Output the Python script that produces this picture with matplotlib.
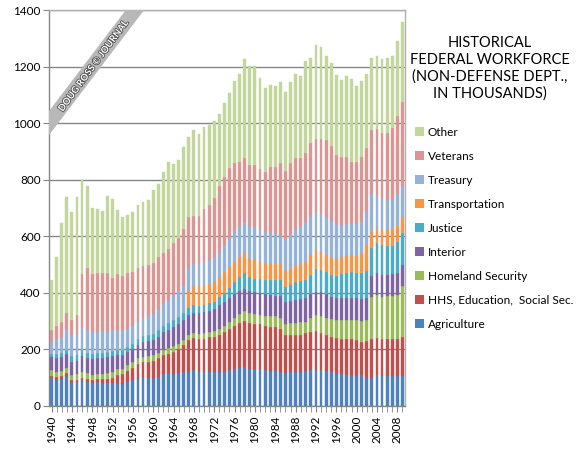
import numpy as np
import matplotlib
matplotlib.use('Agg')
import matplotlib.pyplot as plt
import matplotlib.patheffects as pe
from matplotlib.patches import Patch

plt.rcParams['font.family'] = ['Lato', 'DejaVu Sans']

# 数据：各部门文职人数（千人），1940-2009
years = list(range(1940, 2010))

agriculture = [98, 93, 95, 107, 80, 83, 90, 85, 82, 84,
               82, 82, 80, 79, 78, 86, 90, 95, 101, 100,
               100, 103, 111, 115, 113, 116, 119, 121, 125, 120,
               120, 121, 118, 119, 121, 128, 130, 134, 139, 132,
               131, 130, 125, 124, 124, 121, 116, 118, 120, 121,
               122, 127, 128, 126, 122, 118, 111, 111, 108, 108,
               104, 108, 98, 100, 109, 106, 104, 104, 104, 104]
hhs = [9, 10, 9, 10, 10, 10, 10, 11, 11, 11,
       12, 14, 18, 31, 34, 36, 45, 53, 53, 55,
       58, 65, 67, 70, 79, 84, 96, 111, 115, 117,
       118, 121, 127, 131, 139, 144, 153, 158, 161, 160,
       159, 158, 157, 156, 154, 149, 136, 132, 130, 131,
       134, 135, 136, 130, 130, 127, 128, 126, 127, 127,
       129, 119, 132, 136, 131, 130, 131, 131, 133, 139]
homeland = [18, 17, 18, 18, 20, 20, 20, 19, 17, 17,
            18, 19, 20, 20, 20, 21, 20, 20, 20, 20,
            20, 20, 19, 18, 18, 18, 18, 18, 17, 17,
            18, 18, 18, 20, 22, 24, 27, 33, 36, 36,
            35, 34, 36, 38, 40, 42, 38, 42, 44, 44,
            42, 48, 56, 60, 60, 61, 63, 65, 68, 70,
            69, 73, 72, 150, 152, 149, 153, 155, 155, 181]
interior = [47, 50, 50, 48, 45, 47, 55, 53, 55, 56,
            58, 57, 57, 48, 46, 46, 45, 47, 51, 53,
            54, 57, 63, 65, 68, 72, 72, 72, 73, 74,
            76, 77, 79, 85, 86, 86, 85, 80, 76, 77,
            77, 76, 76, 74, 72, 77, 79, 80, 82, 82,
            82, 85, 84, 86, 84, 80, 79, 79, 80, 78,
            78, 78, 80, 72, 79, 77, 74, 75, 78, 74]
justice = [12, 15, 16, 14, 20, 18, 21, 18, 18, 18,
           18, 20, 20, 20, 20, 18, 20, 22, 22, 22,
           23, 23, 24, 24, 24, 25, 25, 24, 25, 25,
           25, 25, 26, 30, 32, 36, 43, 50, 57, 50,
           48, 50, 50, 52, 55, 56, 51, 56, 61, 62,
           66, 68, 80, 78, 76, 77, 79, 85, 86, 89,
           91, 93, 96, 99, 104, 106, 104, 102, 110, 114]
transportation = [0] * 27 + [60, 70, 70,
                  70, 70, 70, 70, 72, 72, 72, 73, 71, 65,
                  65, 62, 61, 59, 57, 55, 56, 57, 59, 63,
                  64, 71, 67, 65, 63, 59, 58, 59, 61, 60,
                  59, 68, 92, 59, 55, 54, 56, 57, 56, 55]
treasury = [41, 52, 56, 75, 75, 77, 84, 82, 79, 76,
            75, 74, 73, 70, 67, 64, 62, 63, 65, 68,
            70, 74, 81, 83, 88, 90, 98, 85, 77, 77,
            80, 83, 87, 90, 98, 105, 107, 107, 110, 115,
            117, 115, 110, 109, 110, 100, 111, 120, 129, 132,
            140, 141, 134, 135, 133, 133, 125, 115, 113, 115,
            115, 112, 120, 133, 112, 108, 106, 104, 115, 111]
veterans = [44, 45, 53, 58, 55, 65, 185, 221, 205, 207,
            207, 204, 185, 199, 195, 198, 193, 189, 181, 179,
            179, 184, 177, 180, 185, 190, 197, 177, 170, 172,
            188, 197, 210, 233, 241, 247, 241, 226, 228, 217,
            220, 212, 213, 234, 234, 258, 244, 253, 251, 241,
            243, 254, 259, 264, 272, 265, 244, 241, 238, 215,
            216, 229, 223, 227, 238, 236, 238, 256, 275, 298]
other = [176, 245, 350, 409, 381, 418, 333, 290, 233, 226,
         219, 271, 279, 226, 207, 206, 211, 221, 228, 231,
         258, 260, 286, 309, 280, 273, 291, 284, 304, 289,
         291, 280, 274, 254, 261, 266, 291, 313, 348, 350,
         350, 324, 295, 288, 285, 287, 279, 287, 299, 289,
         326, 303, 332, 324, 297, 292, 283, 271, 284, 293,
         270, 269, 261, 256, 256, 261, 263, 252, 264, 283]

names = ['Agriculture', 'HHS, Education,  Social Sec.', 'Homeland Security',
         'Interior', 'Justice', 'Transportation', 'Treasury', 'Veterans', 'Other']
series = [agriculture, hhs, homeland, interior, justice,
          transportation, treasury, veterans, other]
colors = ['#4F81BD', '#C0504D', '#9BBB59', '#8064A2', '#4BACC6',
          '#F79646', '#95B3D7', '#D99694', '#C3D69B']

fig = plt.figure(figsize=(5.76, 4.57), dpi=100)
ax = fig.add_axes([0.085, 0.112, 0.618, 0.866])

x = np.arange(len(years))
bottom = np.zeros(len(years))
for vals, c in zip(series, colors):
    ax.bar(x, vals, bottom=bottom, width=0.56, color=c,
           edgecolor=c, linewidth=0.3, zorder=3)
    bottom += np.array(vals)

ax.set_xlim(-0.5, len(years) - 0.5)
ax.set_ylim(0, 1400)
ax.set_yticks(range(0, 1401, 200))
ax.yaxis.grid(True, color='#868686', linewidth=1, zorder=0)
ax.tick_params(axis='y', labelsize=8.5, length=4, color='#868686', pad=2)

ax.set_xticks(x, minor=True)
major = [i for i, y in enumerate(years) if (y - 1940) % 4 == 0]
ax.set_xticks(major)
ax.set_xticklabels([str(years[i]) for i in major], rotation=90, fontsize=8.5)
ax.tick_params(axis='x', which='both', length=4, color='#868686', pad=3)

for s in ['left', 'bottom']:
    ax.spines[s].set_color('#868686')
    ax.spines[s].set_linewidth(1)
for s in ['top', 'right']:
    ax.spines[s].set_color('#b0b0b0')
    ax.spines[s].set_linewidth(1)

# 水印（左上角斜条）
ax.plot([-0.05, 0.3], [0.655, 1.069], transform=ax.transAxes, lw=10.5,
        color='#b8b8b8', solid_capstyle='butt', zorder=5, clip_on=True)
wm = ax.text(0.125, 0.858, 'DOUG ROSS © JOURNAL', transform=ax.transAxes,
             rotation=53.5, rotation_mode='anchor', ha='center', va='center',
             fontsize=6.8, fontweight='bold', color='white', zorder=6)
wm.set_path_effects([pe.withStroke(linewidth=1.2, foreground='#505050')])

fig.text(0.851, 0.85, 'HISTORICAL\nFEDERAL WORKFORCE\n(NON-DEFENSE DEPT.,\nIN THOUSANDS)',
         ha='center', va='center', fontsize=10.5, linespacing=1.25)

handles = [Patch(facecolor=c, edgecolor='none') for c in colors][::-1]
fig.legend(handles, names[::-1], loc='upper left', bbox_to_anchor=(0.712, 0.733),
           frameon=False, fontsize=8.5, handlelength=0.8, handleheight=0.8,
           handletextpad=0.3, labelspacing=1.1, borderaxespad=0)

fig.savefig('out.png', dpi=100)
